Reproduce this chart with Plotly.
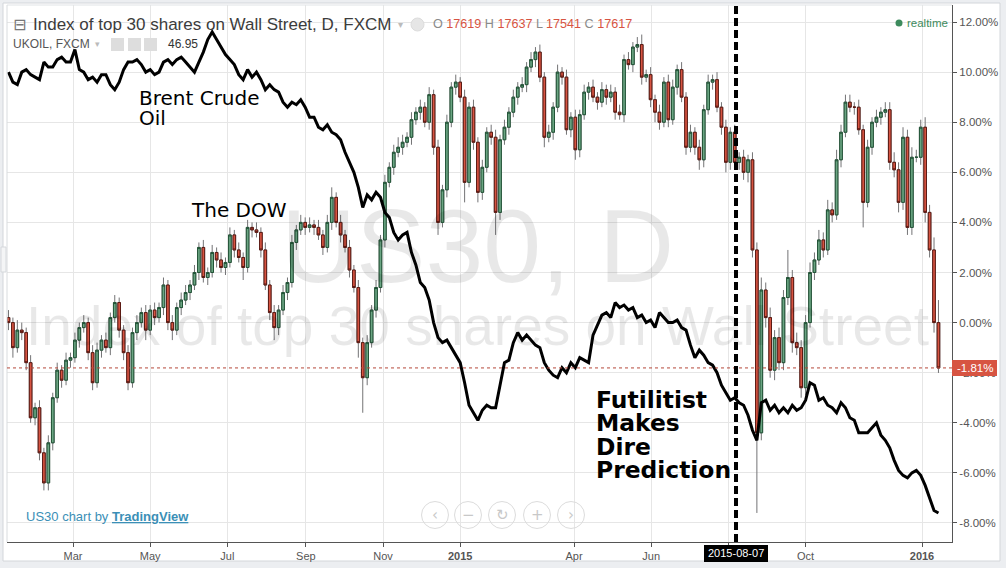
import plotly.graph_objects as go
import pandas as pd

# ---------------- data (percent change) ----------------
# DOW (US30) twice-weekly candles, Jan 2014 - Jan 2016
dow_open = [
    0.2, 0.0, -1.0, -0.3, -0.4, -1.6, -3.8, -3.4, -5.2, -6.4,
    -4.8, -3.0, -1.9, -2.3, -1.5, -1.4, -0.7, -0.2, 0.0, -1.2,
    -2.4, -1.1, -0.7, -1.0, 0.2, 0.8, -0.3, -1.2, -2.4, -0.4,
    0.0, 0.4, -0.3, 0.5, 0.2, 0.6, 1.5, 0.0, -0.3, 0.6,
    0.9, 1.2, 1.5, 2.0, 3.0, 1.8, 2.0, 2.8, 2.5, 2.2,
    2.4, 3.5, 2.9, 2.6, 2.2, 3.8, 3.7, 3.6, 2.9, 1.5,
    0.4, -0.2, 0.5, 1.2, 1.6, 3.2, 3.7, 4.0, 3.8, 3.9,
    3.8, 3.5, 3.0, 4.0, 5.0, 4.0, 3.5, 3.0, 2.1, 1.4,
    -0.8, -2.2, -0.8, 0.5, 1.4, 3.3, 5.6, 6.2, 6.8, 7.0,
    7.2, 7.4, 8.1, 8.4, 8.6, 8.0, 9.1, 7.0, 4.0, 5.3,
    8.0, 9.4, 9.6, 9.0, 5.6, 8.6, 7.2, 5.2, 6.2, 7.6,
    7.4, 4.4, 7.3, 7.8, 8.4, 9.0, 9.4, 9.5, 10.2, 10.5,
    10.8, 9.8, 7.4, 7.6, 8.6, 10.0, 9.8, 7.7, 8.2, 6.9,
    8.3, 9.2, 9.4, 9.0, 8.8, 9.3, 9.0, 9.2, 8.4, 8.3,
    10.5, 10.3, 11.0, 11.1, 9.8, 9.9, 8.9, 8.4, 8.0, 9.6,
    8.1, 9.4, 10.1, 9.0, 7.0, 7.6, 7.0, 6.5, 8.5, 9.6,
    9.7, 8.6, 7.8, 6.4, 7.6, 6.4, 6.6, 6.0, 6.5, 2.9,
    -4.4, 1.3, 0.2, -1.9, -0.6, -1.6, 1.0, 1.8, -0.8, -1.0,
    -2.6, 0.0, 2.0, 2.5, 3.3, 2.9, 4.5, 4.3, 6.5, 7.6,
    8.8, 8.6, 8.6, 7.7, 4.8, 7.0, 8.0, 8.2, 8.4, 8.5,
    6.4, 6.1, 4.8, 7.4, 3.8, 6.6, 6.6, 7.8, 4.4, 2.9,
    0.0,
]
dow_close = [
    0.0, -1.0, -0.3, -0.4, -1.6, -3.8, -3.4, -5.2, -6.4, -4.8,
    -3.0, -1.9, -2.3, -1.5, -1.4, -0.7, -0.2, 0.0, -1.2, -2.4,
    -1.1, -0.7, -1.0, 0.2, 0.8, -0.3, -1.2, -2.4, -0.4, 0.0,
    0.4, -0.3, 0.5, 0.2, 0.6, 1.5, 0.0, -0.3, 0.6, 0.9,
    1.2, 1.5, 2.0, 3.0, 1.8, 2.0, 2.8, 2.5, 2.2, 2.4,
    3.5, 2.9, 2.6, 2.2, 3.8, 3.7, 3.6, 2.9, 1.5, 0.4,
    -0.2, 0.5, 1.2, 1.6, 3.2, 3.7, 4.0, 3.8, 3.9, 3.8,
    3.5, 3.0, 4.0, 5.0, 4.0, 3.5, 3.0, 2.1, 1.4, -0.8,
    -2.2, -0.8, 0.5, 1.4, 3.3, 5.6, 6.2, 6.8, 7.0, 7.2,
    7.4, 8.1, 8.4, 8.6, 8.0, 9.1, 7.0, 4.0, 5.3, 8.0,
    9.4, 9.6, 9.0, 5.6, 8.6, 7.2, 5.2, 6.2, 7.6, 7.4,
    4.4, 7.3, 7.8, 8.4, 9.0, 9.4, 9.5, 10.2, 10.5, 10.8,
    9.8, 7.4, 7.6, 8.6, 10.0, 9.8, 7.7, 8.2, 6.9, 8.3,
    9.2, 9.4, 9.0, 8.8, 9.3, 9.0, 9.2, 8.4, 8.3, 10.5,
    10.3, 11.0, 11.1, 9.8, 9.9, 8.9, 8.4, 8.0, 9.6, 8.1,
    9.4, 10.1, 9.0, 7.0, 7.6, 7.0, 6.5, 8.5, 9.6, 9.7,
    8.6, 7.8, 6.4, 7.6, 6.4, 6.6, 6.0, 6.5, 2.9, -4.4,
    1.3, 0.2, -1.9, -0.6, -1.6, 1.0, 1.8, -0.8, -1.0, -2.6,
    0.0, 2.0, 2.5, 3.3, 2.9, 4.5, 4.3, 6.5, 7.6, 8.8,
    8.6, 8.6, 7.7, 4.8, 7.0, 8.0, 8.2, 8.4, 8.5, 6.4,
    6.1, 4.8, 7.4, 3.8, 6.6, 6.6, 7.8, 4.4, 2.9, 0.0,
    -1.81,
]
# wick length above / below the candle body
wick_hi = [
    0.3, 0.2, 0.4, 0.3, 0.2, 0.3, 0.2, 0.3, 0.2, 0.3,
    0.2, 0.3, 0.2, 0.3, 0.2, 0.3, 0.2, 0.3, 0.2, 0.3,
    0.3, 0.2, 0.3, 0.2, 0.3, 0.2, 0.2, 0.3, 0.2, 0.3,
    0.2, 0.3, 0.2, 0.3, 0.2, 0.3, 0.2, 0.3, 0.2, 0.3,
    0.3, 0.2, 0.3, 0.2, 0.3, 0.2, 0.3, 0.2, 0.3, 0.2,
    0.3, 0.2, 0.3, 0.2, 0.3, 0.2, 0.3, 0.2, 0.3, 0.2,
    0.3, 0.2, 0.3, 0.2, 0.3, 0.2, 0.3, 0.2, 0.3, 0.2,
    0.3, 0.2, 0.3, 0.4, 0.2, 0.3, 0.2, 0.3, 0.2, 0.3,
    0.2, 0.3, 0.2, 0.3, 0.2, 0.3, 0.2, 0.3, 0.4, 0.3,
    0.2, 0.3, 0.2, 0.3, 0.2, 0.3, 0.2, 0.3, 0.2, 0.3,
    0.2, 0.3, 0.2, 0.3, 0.2, 0.3, 0.2, 0.3, 0.2, 0.3,
    0.3, 0.2, 0.3, 0.2, 0.3, 0.2, 0.3, 0.2, 0.3, 0.2,
    0.3, 0.2, 0.3, 0.2, 0.3, 0.2, 0.3, 0.2, 0.3, 0.2,
    0.3, 0.2, 0.3, 0.2, 0.3, 0.2, 0.3, 0.2, 0.3, 0.2,
    0.3, 0.2, 0.3, 0.4, 0.2, 0.3, 0.2, 0.3, 0.2, 0.3,
    0.3, 0.2, 0.3, 0.2, 0.3, 0.2, 0.3, 0.2, 0.3, 0.2,
    0.3, 0.2, 0.3, 0.2, 0.3, 0.2, 0.3, 0.2, 0.3, 0.3,
    0.5, 0.3, 0.4, 0.3, 0.4, 0.3, 1.1, 0.3, 0.4, 0.3,
    0.3, 0.4, 0.3, 0.4, 0.3, 0.4, 0.3, 0.4, 0.3, 0.3,
    0.3, 0.2, 0.3, 0.2, 0.3, 0.2, 0.3, 0.2, 0.3, 0.3,
    0.4, 0.3, 0.4, 0.3, 0.4, 0.3, 0.3, 0.4, 0.3, 0.5,
    0.9,
]
wick_lo = [
    0.3, 0.4, 0.2, 0.3, 0.3, 0.2, 0.3, 0.3, 0.3, 0.3,
    0.3, 0.2, 0.3, 0.2, 0.3, 0.2, 0.3, 0.2, 0.3, 0.3,
    0.2, 0.3, 0.2, 0.3, 0.2, 0.3, 0.3, 0.3, 0.2, 0.3,
    0.2, 0.4, 0.2, 0.3, 0.2, 0.3, 0.3, 0.4, 0.2, 0.3,
    0.2, 0.3, 0.2, 0.3, 0.2, 0.3, 0.2, 0.3, 0.2, 0.3,
    0.2, 0.3, 0.2, 0.5, 0.2, 0.3, 0.2, 0.3, 0.2, 0.3,
    0.5, 0.3, 0.2, 0.3, 0.2, 0.3, 0.2, 0.3, 0.2, 0.3,
    0.2, 0.3, 0.2, 0.3, 0.2, 0.3, 0.2, 0.3, 0.2, 0.6,
    1.4, 0.3, 0.2, 0.3, 0.2, 0.3, 0.2, 0.3, 0.2, 0.3,
    0.2, 0.3, 0.2, 0.3, 0.2, 0.3, 0.3, 0.5, 0.2, 0.3,
    0.2, 0.3, 0.2, 0.8, 0.2, 0.3, 0.4, 0.3, 0.2, 0.3,
    0.9, 0.3, 0.2, 0.3, 0.2, 0.3, 0.2, 0.3, 0.2, 0.3,
    0.2, 0.4, 0.2, 0.3, 0.2, 0.3, 0.2, 0.3, 0.4, 0.3,
    0.2, 0.3, 0.2, 0.3, 0.2, 0.3, 0.2, 0.3, 0.2, 0.3,
    0.2, 0.3, 0.2, 0.3, 0.2, 0.3, 0.4, 0.3, 0.2, 0.3,
    0.2, 0.3, 0.2, 0.3, 0.2, 0.3, 0.4, 0.3, 0.2, 0.3,
    0.2, 0.3, 0.4, 0.3, 0.2, 0.3, 0.3, 0.4, 0.3, 3.2,
    0.3, 0.4, 0.3, 0.4, 0.3, 0.3, 0.3, 0.4, 0.3, 0.4,
    0.3, 0.2, 0.3, 0.2, 0.3, 0.2, 0.3, 0.2, 0.3, 0.2,
    0.2, 0.3, 0.2, 1.0, 0.2, 0.3, 0.2, 0.3, 0.2, 0.3,
    0.3, 0.4, 0.3, 0.3, 0.3, 0.2, 0.3, 0.4, 0.3, 0.4,
    0.2,
]
# Brent crude (UKOIL) comparison line, on the same percent scale
oil = [
    10.0, 9.6, 9.5, 10.0, 10.1, 9.9, 9.8, 9.7, 10.4, 10.2,
    10.2, 10.5, 10.6, 10.4, 10.4, 10.9, 10.1, 10.0, 9.7, 9.8,
    9.6, 9.9, 9.9, 9.5, 9.3, 9.6, 10.1, 10.4, 10.4, 10.5,
    10.3, 10.0, 10.1, 9.9, 10.0, 10.4, 10.5, 10.3, 10.5, 10.6,
    10.4, 10.2, 10.0, 10.4, 10.8, 11.3, 11.6, 11.3, 11.0, 10.7,
    10.5, 10.3, 9.9, 9.7, 10.1, 9.8, 10.0, 9.7, 9.3, 9.5,
    9.3, 9.2, 8.8, 8.6, 8.8, 8.7, 8.9, 8.6, 8.2, 8.2,
    7.8, 7.7, 7.9, 7.6, 7.5, 7.3, 6.8, 6.4, 6.0, 5.4,
    4.6, 5.1, 4.9, 5.2, 5.0, 4.4, 4.2, 3.6, 3.3, 3.5,
    3.6, 2.8, 2.3, 1.6, 1.4, 0.9, 0.0, -0.6, -0.8, -0.7,
    -1.0, -1.3, -1.6, -2.4, -3.3, -3.6, -3.9, -3.5, -3.3, -3.4,
    -3.4, -2.5, -1.6, -1.5, -0.8, -0.4, -0.7, -0.5, -0.7, -0.9,
    -1.0, -1.6, -1.9, -2.1, -2.2, -1.8, -2.0, -1.6, -1.8, -1.4,
    -1.5, -1.6, -0.5, -0.1, 0.3, 0.4, 0.2, 0.8, 0.6, 0.7,
    0.5, 0.6, 0.2, 0.3, 0.0, 0.1, -0.2, 0.4, 0.2, 0.0,
    0.0, 0.1, -0.2, -0.3, -0.9, -1.4, -1.1, -1.3, -1.6, -1.7,
    -2.0, -2.5, -2.8, -3.1, -3.0, -3.2, -3.3, -3.7, -4.3, -4.7,
    -3.2, -3.1, -3.5, -3.3, -3.6, -3.4, -3.6, -3.3, -3.5, -3.4,
    -3.1, -2.4, -2.5, -3.1, -3.0, -3.3, -3.4, -3.6, -3.2, -3.4,
    -3.8, -3.9, -4.4, -4.4, -4.4, -4.2, -4.0, -4.5, -4.7, -5.0,
    -5.5, -5.9, -6.1, -6.2, -6.0, -5.9, -6.1, -6.5, -7.0, -7.5,
    -7.6,
]
first_bar = "2014-01-09"
bar_step = "84h"  # two bars per week

y_ticks = [-8, -6, -4, -2, 0, 2, 4, 6, 8, 10, 12]
y_ticktext = ["-8.00%", "-6.00%", "-4.00%", "-2.00%", "0.00%", "2.00%",
              "4.00%", "6.00%", "8.00%", "10.00%", "12.00%"]
x_ticks = ["2014-03-01", "2014-05-01", "2014-07-01", "2014-09-01", "2014-11-01",
           "2015-01-01", "2015-04-01", "2015-06-01", "2015-08-01", "2015-10-01",
           "2016-01-01"]
# the Aug label sits under the crosshair date flag, so it is left blank
x_ticktext = ["Mar", "May", "Jul", "Sep", "Nov", "<b>2015</b>", "Apr", "Jun",
              "", "Oct", "<b>2016</b>"]
last_value = -1.81
marker_date = "2015-08-07"

# ---------------- build ----------------
dates = pd.date_range(first_bar, periods=len(dow_close), freq=bar_step)
dow_high = [max(o, c) + w for o, c, w in zip(dow_open, dow_close, wick_hi)]
dow_low = [min(o, c) - w for o, c, w in zip(dow_open, dow_close, wick_lo)]
body_top = [max(o, c) for o, c in zip(dow_open, dow_close)]
body_bot = [min(o, c) for o, c in zip(dow_open, dow_close)]

UP_FILL, UP_LINE = "#6ba583", "#225437"
DN_FILL, DN_LINE = "#d75442", "#5b1a13"
WICK = "#737375"

fig = go.Figure()
# wicks
fig.add_trace(go.Candlestick(
    x=dates, open=dow_open, high=dow_high, low=dow_low, close=dow_close,
    increasing=dict(line=dict(color=WICK, width=1), fillcolor=WICK),
    decreasing=dict(line=dict(color=WICK, width=1), fillcolor=WICK),
    whiskerwidth=0, showlegend=False, hoverinfo="skip"))
# bodies
fig.add_trace(go.Candlestick(
    x=dates, open=dow_open, high=body_top, low=body_bot, close=dow_close,
    increasing=dict(line=dict(color=UP_LINE, width=1), fillcolor=UP_FILL),
    decreasing=dict(line=dict(color=DN_LINE, width=1), fillcolor=DN_FILL),
    whiskerwidth=0, showlegend=False, hoverinfo="skip"))
# oil line
fig.add_trace(go.Scatter(x=dates, y=oil, mode="lines",
                         line=dict(color="black", width=3),
                         showlegend=False, hoverinfo="skip"))

# pixel -> paper helpers (plot area: x 7..952, y 5..542)
L, R, T, B = 7, 952, 5, 542
def px(xp):
    return (xp - L) / (R - L)
def py(yp):
    return (B - yp) / (B - T)

UI = "Liberation Sans, Arial, sans-serif"
DV = "DejaVu Sans, Verdana, sans-serif"

ann = []
def text(x, y, s, size, color="black", family=UI, xanchor="left", **kw):
    ann.append(dict(x=px(x), y=py(y), xref="paper", yref="paper", text=s,
                    showarrow=False, xanchor=xanchor, yanchor="middle",
                    font=dict(size=size, color=color, family=family), **kw))

# watermark
text(477, 246, "US30, D", 104, "rgba(0,0,0,0.09)", UI, "center")
text(477, 326, "Index of top 30 shares on Wall Street", 55, "rgba(0,0,0,0.09)", UI, "center")

# header
text(11, 25, "⊟", 16, "#777777", DV)
text(31, 25, "Index of top 30 shares on Wall Street, D, FXCM", 17, "#3c3c3c")
text(396, 25, "▾", 10, "#bbbbbb", DV)
text(431, 24, "O <span style='color:#d75442'>17619</span> H <span style='color:#d75442'>17637</span> "
              "L <span style='color:#d75442'>17541</span> C <span style='color:#d75442'>17617</span>",
     12.6, "#8a8a8a")
text(11, 44, "UKOIL, FXCM", 12, "#555555")
text(93, 44, "▾", 9, "#bbbbbb", DV)
text(166, 44, "46.95", 12, "#333333")
text(905, 23, "realtime", 11.5, "#3d8b5d")

# user annotations
text(137, 98, "Brent Crude", 20, "black", DV)
text(137, 118, "Oil", 20, "black", DV)
text(189, 210, "The DOW", 20, "black", DV)
for i, w in enumerate(["Futilitist", "Makes", "Dire", "Prediction"]):
    text(594, 400 + 23.4 * i, "<b>" + w + "</b>", 23.4, "black", DV)

# footer
text(24, 516, "US30 chart by <b><u>TradingView</u></b>", 13, "#3b8fb6")
for cx, g in zip([435, 468, 502, 537, 571], ["‹", "−", "↻", "+", "›"]):
    text(cx, 515, g, 15, "#c8c8c8", DV, "center")

# axis flags
text(975, 368, "-1.81%", 11.5, "white", UI, "center")
text(736, 553, "2015-08-07", 11, "white", UI, "center")

shapes = [
    # outer frame
    dict(type="rect", xref="paper", yref="paper", x0=px(3), x1=px(1000), y0=py(561), y1=py(3),
         fillcolor="white", line=dict(color="#d3d6da", width=1), layer="below"),
    # plot top/left borders
    dict(type="line", xref="paper", yref="paper", x0=0, x1=1, y0=1, y1=1,
         line=dict(color="#e0e3e6", width=1)),
    dict(type="line", xref="paper", yref="paper", x0=0, x1=0, y0=0, y1=1,
         line=dict(color="#d8dbde", width=1)),
    # left side tab
    dict(type="rect", xref="paper", yref="paper", x0=px(1), x1=px(6), y0=py(272), y1=py(247),
         fillcolor="#f4f5f6", line=dict(color="#d5d8dc", width=1)),
    # last price line
    dict(type="line", xref="paper", yref="y", x0=0, x1=1, y0=last_value, y1=last_value,
         line=dict(color="#b5483a", width=1, dash="dot")),
    # prediction date line
    dict(type="line", xref="x", yref="paper", x0=marker_date, x1=marker_date, y0=0, y1=1,
         line=dict(color="black", width=4, dash="8px,4px")),
    # axis flags
    dict(type="rect", xref="paper", yref="paper", x0=px(952), x1=px(997), y0=py(376), y1=py(360),
         fillcolor="#d75442", line=dict(width=0), layer="above"),
    dict(type="rect", xref="paper", yref="paper", x0=px(704), x1=px(768), y0=py(562), y1=py(545),
         fillcolor="black", line=dict(width=0), layer="above"),
    # header icons
    dict(type="circle", xref="paper", yref="paper", x0=px(411), x1=px(424), y0=py(31), y1=py(18),
         fillcolor="#e6e6e6", line=dict(color="#dcdcdc", width=1)),
    dict(type="circle", xref="paper", yref="paper", x0=px(895.5), x1=px(902.5), y0=py(26.5), y1=py(19.5),
         fillcolor="#3d8b5d", line=dict(width=0)),
]
for x0 in [111, 128, 144]:
    shapes.append(dict(type="rect", xref="paper", yref="paper", x0=px(x0), x1=px(x0 + 13),
                       y0=py(51), y1=py(38), fillcolor="#dddddd", line=dict(width=0)))
for cx in [435, 468, 502, 537, 571]:
    shapes.append(dict(type="circle", xref="paper", yref="paper", x0=px(cx - 13.5), x1=px(cx + 13.5),
                       y0=py(528.5), y1=py(501.5), line=dict(color="#dcdcdc", width=1)))

fig.update_layout(
    width=1006, height=568,
    margin=dict(l=L, r=1006 - R, t=T, b=568 - B, pad=0),
    paper_bgcolor="#eceef1", plot_bgcolor="white",
    showlegend=False, boxgap=0.15, hovermode=False,
    annotations=ann, shapes=shapes,
    xaxis=dict(type="date", range=["2014-01-07 20:00", "2016-01-24 17:00"],
               tickvals=x_ticks, ticktext=x_ticktext, showgrid=True, gridcolor="#e6e6e6",
               showline=True, linecolor="#555555", linewidth=1, ticks="outside", ticklen=4,
               tickcolor="#555555", tickfont=dict(family=UI, size=11, color="#555555"),
               rangeslider=dict(visible=False), zeroline=False, fixedrange=True),
    yaxis=dict(side="right", range=[-8.76, 12.68], tickvals=y_ticks, ticktext=y_ticktext,
               showgrid=True, gridcolor="#e6e6e6", zeroline=False, showline=True,
               linecolor="#555555", linewidth=1, ticks="outside", ticklen=4,
               tickcolor="#555555", tickfont=dict(family=UI, size=11.5, color="#555555"),
               fixedrange=True),
)

fig.write_html("out.html", config={"displayModeBar": False},
               post_script="document.body.style.margin='0';document.body.style.overflow='hidden';")
